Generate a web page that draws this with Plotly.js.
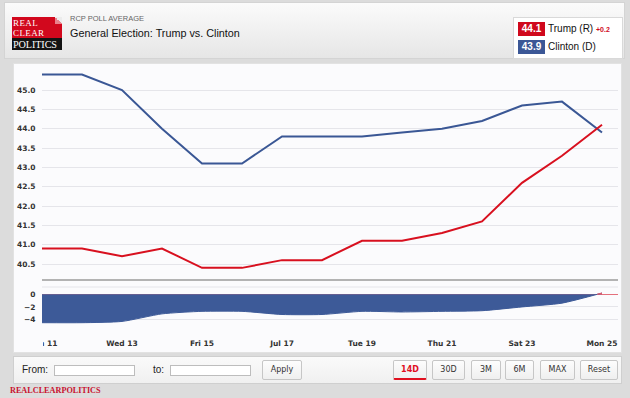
<!DOCTYPE html>
<html>
<head>
<meta charset="utf-8">
<script src="https://cdn.plot.ly/plotly-3.0.1.min.js"></script>
<style>
  html, body { margin:0; padding:0; }
  body { width:630px; height:398px; overflow:hidden; background:#dcdcdc; position:relative; font-family:"Liberation Sans", Arial, sans-serif; }
  .abs { position:absolute; }
  #header { left:4px; top:2px; width:621px; height:57px; background:linear-gradient(#fbfbfb, #e6e6e6); border:1px solid #d4d4d4; box-sizing:border-box; }
  #panel { left:13px; top:63px; width:609px; height:290px; background:#fbfbfd; border:1px solid #e2e2e2; box-sizing:border-box; }
  #controls { left:13px; top:356px; width:609px; height:28px; background:linear-gradient(#fafafa, #f0f0f0); border:1px solid #cfcfcf; box-sizing:border-box; }
  .logo-red { left:12px; top:17px; width:50px; height:21px; background:#d2081d; }
  .logo-black { left:12px; top:38px; width:50px; height:12px; background:#141414; }
  .logo-fold { left:55px; top:17px; width:7px; height:7px; background:linear-gradient(to bottom left, #ececec 50%, #e9828c 50%); }
  .logo-txt { color:#fff; font-family:"Liberation Serif", "Times New Roman", serif; left:13px; }
  .btn { top:360px; height:20px; box-sizing:border-box; border:1px solid #c6c6c6; border-radius:2px; background:linear-gradient(#fdfdfd, #efefef); font-family:"DejaVu Sans", sans-serif; font-size:8px; color:#333; text-align:center; line-height:18px; }
  .inp { top:365px; height:11px; background:#fff; border:1px solid #bdbdbd; box-sizing:border-box; }
  .lbl { font-size:10px; color:#222; top:364px; line-height:12px; }
  #plot { left:0; top:0; width:630px; height:398px; }
</style>
</head>
<body>
<div id="header" class="abs"></div>
<div class="abs logo-red"></div>
<div class="abs logo-black"></div>
<div class="abs logo-fold"></div>
<div class="abs logo-txt" style="top:17.5px; font-size:9px; line-height:10.5px; letter-spacing:0.4px;">REAL<br>CLEAR</div>
<div class="abs logo-txt" style="top:39px; font-size:10.2px; line-height:11px; letter-spacing:-0.1px;">POLITICS</div>
<div class="abs" style="left:70px; top:14px; font-size:7.5px; color:#666; line-height:9px;">RCP POLL AVERAGE</div>
<div class="abs" style="left:70px; top:27px; font-size:10.8px; color:#111; line-height:13px;">General Election: Trump vs. Clinton</div>

<div class="abs" style="left:513px; top:17px; width:110px; height:42px; background:#fff; border:1px solid #d9d9d9; box-sizing:border-box;"></div>
<div class="abs" style="left:518px; top:22px; width:27px; height:14px; background:#d0081c; color:#fff; font-weight:bold; font-size:10px; line-height:14px; text-align:center;" id="tval"></div>
<div class="abs" style="left:548px; top:22px; font-size:10px; line-height:14px; color:#111;" id="tname"></div>
<div class="abs" style="left:596px; top:23px; font-size:7px; line-height:14px; color:#d0081c; font-weight:bold;" id="tchg"></div>
<div class="abs" style="left:518px; top:40px; width:27px; height:14px; background:#3b5796; color:#fff; font-weight:bold; font-size:10px; line-height:14px; text-align:center;" id="cval"></div>
<div class="abs" style="left:548px; top:40px; font-size:10px; line-height:14px; color:#111;" id="cname"></div>

<div id="panel" class="abs"></div>
<div id="controls" class="abs"></div>
<div class="abs lbl" style="left:22px;">From:</div>
<div class="abs inp" style="left:54px; width:81px;"></div>
<div class="abs lbl" style="left:153px;">to:</div>
<div class="abs inp" style="left:170px; width:81px;"></div>
<div class="abs btn" style="left:262px; width:40px;">Apply</div>
<div class="abs btn" style="left:393px; width:34px; color:#e0101f; font-weight:bold; border-bottom:2px solid #e0101f;">14D</div>
<div class="abs btn" style="left:432px; width:33px;">30D</div>
<div class="abs btn" style="left:471px; width:30px;">3M</div>
<div class="abs btn" style="left:505px; width:29px;">6M</div>
<div class="abs btn" style="left:540px; width:35px;">MAX</div>
<div class="abs btn" style="left:580px; width:38px;">Reset</div>
<div class="abs" style="left:10px; top:386px; font-family:'Liberation Serif', serif; font-weight:bold; font-size:8.2px; color:#c8102e; line-height:10px;">REALCLEARPOLITICS</div>

<div id="plot" class="abs"></div>

<script>
// ---- data ----
const dates = ['2016-07-11','2016-07-12','2016-07-13','2016-07-14','2016-07-15','2016-07-16','2016-07-17',
               '2016-07-18','2016-07-19','2016-07-20','2016-07-21','2016-07-22','2016-07-23','2016-07-24','2016-07-25'];
const trump   = [40.9, 40.9, 40.7, 40.9, 40.4, 40.4, 40.6, 40.6, 41.1, 41.1, 41.3, 41.6, 42.6, 43.3, 44.1];
const clinton = [45.4, 45.4, 45.0, 44.0, 43.1, 43.1, 43.8, 43.8, 43.8, 43.9, 44.0, 44.2, 44.6, 44.7, 43.9];
const spread  = [-4.5, -4.5, -4.3, -3.1, -2.7, -2.7, -3.2, -3.2, -2.7, -2.8, -2.7, -2.6, -2.0, -1.4, 0.2];
const spreadPosDates = ['2016-07-24 21:00', '2016-07-25'];
const spreadPos = [0, 0.2];
const tickDates  = ['2016-07-11','2016-07-13','2016-07-15','2016-07-17','2016-07-19','2016-07-21','2016-07-23','2016-07-25'];
const tickLabels = ['Mon 11','Wed 13','Fri 15','Jul 17','Tue 19','Thu 21','Sat 23','Mon 25'];
const yTicks = [40.5, 41.0, 41.5, 42.0, 42.5, 43.0, 43.5, 44.0, 44.5, 45.0];
const spreadTicks = [0, -2, -4];
const legendInfo = { trumpName:'Trump (R)', clintonName:'Clinton (D)', trumpChange:'+0.2' };

document.getElementById('tval').textContent = trump[trump.length-1].toFixed(1);
document.getElementById('cval').textContent = clinton[clinton.length-1].toFixed(1);
document.getElementById('tname').textContent = legendInfo.trumpName;
document.getElementById('cname').textContent = legendInfo.clintonName;
document.getElementById('tchg').textContent = legendInfo.trumpChange;

const W = 630, H = 398;
const px = v => v / W;
const py = v => 1 - v / H;
const RED = '#d8101f', BLUE = '#3a5795';
const tickFont = {family:'DejaVu Sans', size:7.5, color:'#333', weight:'bold'};

const traces = [
  {x:dates, y:clinton, xaxis:'x2', yaxis:'y', mode:'lines', line:{color:BLUE, width:2}, hoverinfo:'skip'},
  {x:dates, y:trump,   xaxis:'x2', yaxis:'y', mode:'lines', line:{color:RED, width:2}, hoverinfo:'skip'},
  {x:dates, y:spread,  xaxis:'x',  yaxis:'y2', mode:'lines', fill:'tozeroy', fillcolor:'#3d5a98',
   line:{color:'#3d5a98', width:1, shape:'spline', smoothing:0.6}, hoverinfo:'skip'},
  {x:spreadPosDates, y:spreadPos, xaxis:'x', yaxis:'y2', mode:'lines', fill:'tozeroy', fillcolor:'#e8586a',
   line:{color:'#e8586a', width:1}, hoverinfo:'skip'}
];

const xDomain = [px(42), px(618)];
const xRange = ['2016-07-11 00:00', '2016-07-25 09:36'];

const layout = {
  width:W, height:H, margin:{l:0, r:0, t:0, b:0},
  paper_bgcolor:'rgba(0,0,0,0)', plot_bgcolor:'rgba(0,0,0,0)',
  showlegend:false,
  xaxis:{domain:xDomain, range:xRange, type:'date', anchor:'y2',
         tickmode:'array', tickvals:tickDates, ticktext:tickLabels,
         showgrid:false, zeroline:false, showline:false,
         ticks:'outside', ticklen:11, tickcolor:'rgba(0,0,0,0)', tickfont:tickFont},
  xaxis2:{domain:xDomain, range:xRange, type:'date', anchor:'y', matches:'x',
          showticklabels:false, showgrid:false, zeroline:false,
          showline:true, linecolor:'#b3b3b3', linewidth:2, ticks:''},
  yaxis:{domain:[py(279), py(66)], range:[40.112, 45.621],
         tickmode:'array', tickvals:yTicks, tickformat:'.1f',
         gridcolor:'#e5e5ea', gridwidth:1, zeroline:false, showline:false,
         ticks:'outside', ticklen:4, tickcolor:'rgba(0,0,0,0)', tickfont:tickFont},
  yaxis2:{domain:[py(325), py(287)], range:[-4.865, 1.157],
          tickmode:'array', tickvals:spreadTicks, tickformat:'d',
          gridcolor:'#e5e5ea', gridwidth:1,
          zeroline:true, zerolinecolor:'#e4707c', zerolinewidth:1, showline:false,
          ticks:'outside', ticklen:4, tickcolor:'rgba(0,0,0,0)', tickfont:tickFont},
  shapes:[
    {type:'line', xref:'paper', yref:'paper', x0:px(42), x1:px(618), y0:py(287), y1:py(287),
     line:{color:'#e5e5ea', width:1}, layer:'below'},
    {type:'rect', xref:'paper', yref:'paper', x0:px(15), x1:px(43), y0:py(350), y1:py(334),
     fillcolor:'#fbfbfd', line:{width:0}, layer:'above'}
  ]
};

Plotly.newPlot('plot', traces, layout, {staticPlot:true, displayModeBar:false});
</script>
</body>
</html>
